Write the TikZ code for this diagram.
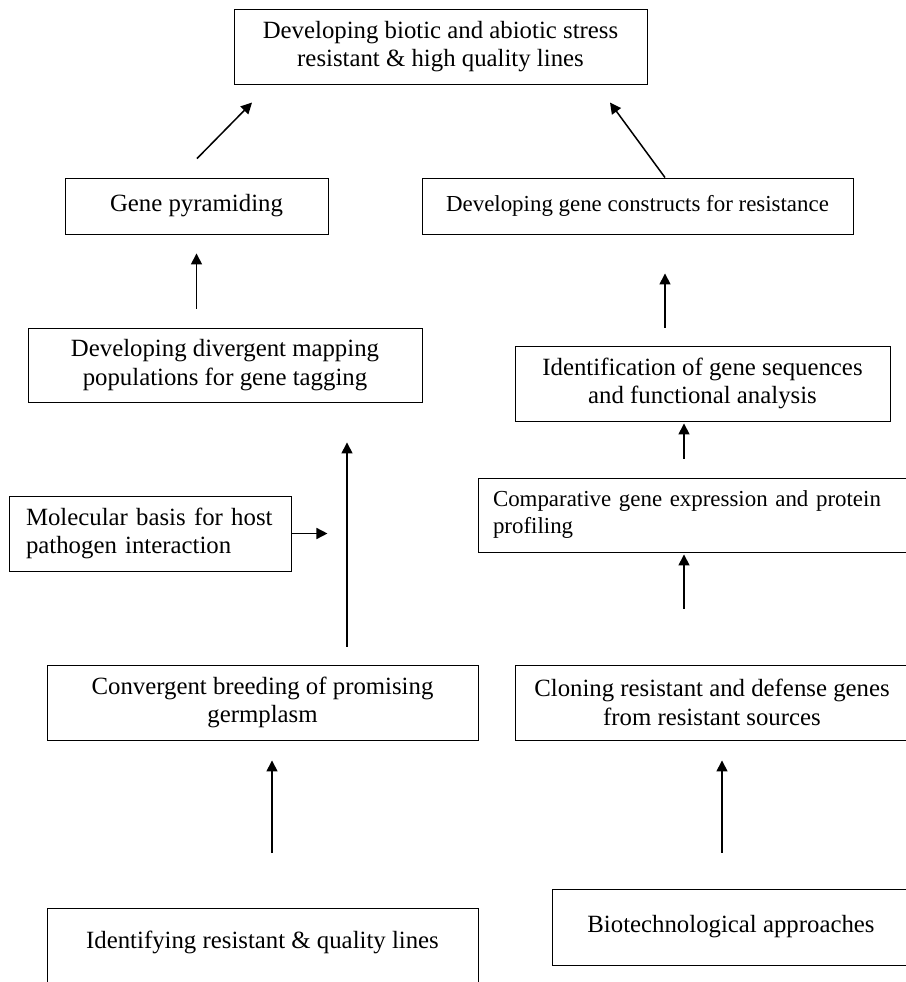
\documentclass[tikz,border=0pt]{standalone}
\usepackage{fontspec}
\setmainfont{Liberation Serif}
\usetikzlibrary{arrows.meta}

\begin{document}
\begin{tikzpicture}[x=1pt,y=-1pt,
  box/.style={draw,line width=0.9pt,inner sep=0pt,align=center,font=\fontsize{24.8}{28.5}\selectfont},
  smallbox/.style={box,font=\fontsize{22.9}{27}\selectfont},
  arr/.style={line width=1.5pt,-{Triangle[length=11pt,width=11pt]}}]

\useasboundingbox (0,0) rectangle (905,982);

\node[box,minimum width=413pt,minimum height=75pt] (goal) at (440.5,46.5) {Developing biotic and abiotic stress\\resistant \& high quality lines};

\node[box,minimum width=263pt,minimum height=56pt] (pyr) at (196.5,206) {Gene pyramiding};
\node[smallbox,minimum width=431pt,minimum height=56pt] (cons) at (637.5,206) {Developing gene constructs for resistance};

\node[box,minimum width=394pt,minimum height=74pt] (div) at (225,365) {Developing divergent mapping\\populations for gene tagging};
\node[box,minimum width=375pt,minimum height=75pt] (iden) at (702.5,383.5) {Identification of gene sequences\\and functional analysis};

\node[smallbox,align=left,text width=422pt,inner xsep=15pt,minimum height=74pt] (comp) at (704,515) {Comparative gene expression and protein\\profiling};
\node[box,align=left,text width=248pt,inner xsep=17pt,minimum height=75pt] (mol) at (150,533.5) {Molecular basis for host\\pathogen interaction};

\node[box,minimum width=431pt,minimum height=75pt] (conv) at (262.5,702.5) {Convergent breeding of promising\\germplasm};
\node[box,minimum width=394pt,minimum height=75pt] (clon) at (712,702.5) {Cloning resistant and defense genes\\from resistant sources};

\node[box,anchor=north,minimum width=431pt,minimum height=100pt] (idl) at (262.5,908) {Identifying resistant \& quality lines\\\strut};
\node[box,minimum width=358pt,minimum height=76pt] (biot) at (731,927) {Biotechnological approaches};

% left branch
\draw[arr,shorten <=55pt,shorten >=20pt] (272,0 |- idl.north) -- (272,0 |- conv.south);
\draw[arr,shorten <=18pt,shorten >=40pt] (347,0 |- conv.north) -- (347,0 |- div.south);
\draw[arr] (mol.east) -- ++(36,0);
\draw[arr,shorten <=19pt,shorten >=19pt] (pyr.south |- div.north) -- (pyr.south);
\draw[arr] ([shift={(0.5,-19)}]pyr.north) -- ++(55,-56);

% right branch
\draw[arr,shorten <=36pt,shorten >=20pt] (722,0 |- biot.north) -- (722,0 |- clon.south);
\draw[arr,shorten <=56pt,shorten >=2pt] (684,0 |- clon.north) -- (684,0 |- comp.south);
\draw[arr,shorten <=19pt,shorten >=2pt] (684,0 |- comp.north) -- (684,0 |- iden.south);
\draw[arr,shorten <=18pt,shorten >=39pt] (665,0 |- iden.north) -- (665,0 |- cons.south);
\draw[arr] ([xshift=27.5pt]cons.north) -- ++(-55,-75);

\end{tikzpicture}
\end{document}
